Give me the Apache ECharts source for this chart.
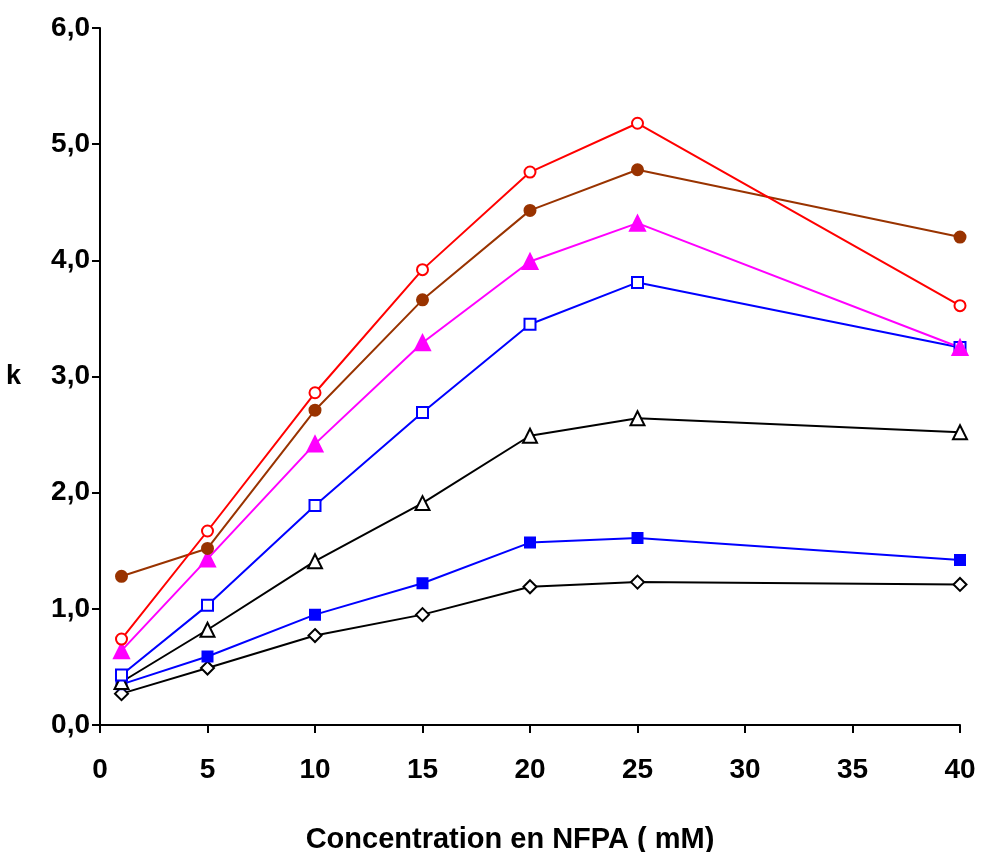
<!DOCTYPE html>
<html><head><meta charset="utf-8">
<script src="https://cdn.jsdelivr.net/npm/echarts@6/dist/echarts.min.js"></script>
<style>html,body{margin:0;padding:0;background:#fff}#c{width:984px;height:852px}</style>
</head><body><div id="c"></div>
<script>
const xValues = [1, 5, 10, 15, 20, 25, 40];
const redOpenCircle   = [0.74, 1.67, 2.86, 3.92, 4.76, 5.18, 3.61];
const brownDot        = [1.28, 1.52, 2.71, 3.66, 4.43, 4.78, 4.20];
const pinkTriangle    = [0.64, 1.43, 2.42, 3.29, 3.99, 4.32, 3.25];
const blueOpenSquare  = [0.43, 1.03, 1.89, 2.69, 3.45, 3.81, 3.25];
const blackTriangle   = [0.37, 0.82, 1.41, 1.91, 2.49, 2.64, 2.52];
const blueFilledSquare= [0.35, 0.59, 0.95, 1.22, 1.57, 1.61, 1.42];
const blackDiamond    = [0.27, 0.49, 0.77, 0.95, 1.19, 1.23, 1.21];

const xTicks = [0, 5, 10, 15, 20, 25, 30, 35, 40];
const yTicks = [0, 1, 2, 3, 4, 5, 6];
const xTitle = 'Concentration en NFPA ( mM)';
const yTitle = 'k';

function pairs(ys){ return xValues.map((x,i)=>[x, ys[i]]); }
function s(name, ys, color, symbol, size, filled){
  return {
    name, type:'line', data: pairs(ys), symbol, symbolSize: size,
    lineStyle:{color, width:2},
    itemStyle:{color: filled ? color : '#fff', borderColor: color, borderWidth: 2},
    emphasis:{disabled:true}, animation:false
  };
}
const font = 'Liberation Sans, Arial, sans-serif';
const chart = echarts.init(document.getElementById('c'));
chart.setOption({
  animation:false,
  grid:{left:100, right:24, top:28, bottom:127, containLabel:false, outerBoundsMode:'none'},
  xAxis:{
    type:'value', min:0, max:40, interval:5,
    axisLine:{lineStyle:{color:'#000', width:2}},
    axisTick:{show:true, length:8, lineStyle:{color:'#000', width:2}},
    splitLine:{show:false},
    axisLabel:{color:'#000', fontSize:28, fontWeight:'bold', fontFamily:font, margin:31,
      formatter: v => xTicks.includes(v) ? String(v) : ''},
    name:xTitle, nameLocation:'middle', nameGap:100,
    nameTextStyle:{color:'#000', fontSize:29, fontWeight:'bold', fontFamily:font, padding:[0,40,0,0]}
  },
  yAxis:{
    type:'value', min:0, max:6, interval:1,
    axisLine:{show:true, lineStyle:{color:'#000', width:2}},
    axisTick:{show:true, length:8, lineStyle:{color:'#000', width:2}},
    splitLine:{show:false},
    axisLabel:{color:'#000', fontSize:28, fontWeight:'bold', fontFamily:font, margin:10,
      formatter: v => yTicks.includes(v) ? v.toFixed(1).replace('.', ',') : ''},
    name:yTitle, nameLocation:'middle', nameGap:79, nameRotate:0,
    nameTextStyle:{color:'#000', fontSize:27, fontWeight:'bold', fontFamily:font, padding:[0,0,22,0]}
  },
  series:[
    s('diamond', blackDiamond, '#000000', 'diamond', 13, false),
    s('blueFilled', blueFilledSquare, '#0000ff', 'rect', 10, true),
    s('blackTri', blackTriangle, '#000000', 'triangle', 14, false),
    s('blueOpen', blueOpenSquare, '#0000ff', 'rect', 11, false),
    s('pinkTri', pinkTriangle, '#ff00ff', 'triangle', 15, true),
    s('brown', brownDot, '#993300', 'circle', 11, true),
    s('red', redOpenCircle, '#ff0000', 'circle', 11, false)
  ]
});
</script></body></html>
